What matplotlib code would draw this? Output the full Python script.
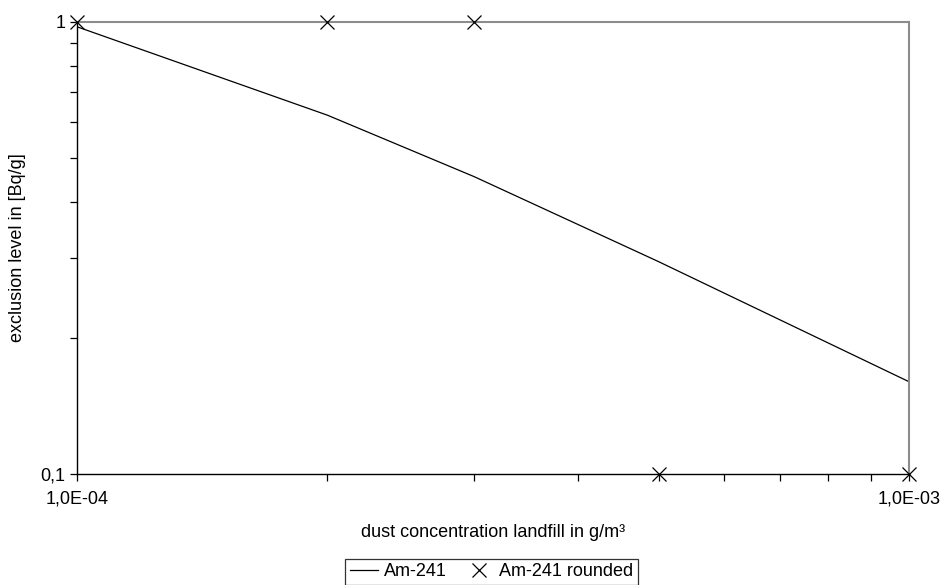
import numpy as np
import matplotlib.pyplot as plt
from matplotlib.ticker import FixedLocator, FixedFormatter, NullFormatter, LogLocator

plt.rcParams['font.family'] = ['Liberation Sans', 'DejaVu Sans']

# data
dust = [1e-4, 2e-4, 3e-4, 5e-4, 1e-3]
am241 = [0.976, 0.622, 0.455, 0.295, 0.16]
am241_rounded = [1, 1, 1, 0.1, 0.1]

fig = plt.figure(figsize=(9.45, 5.85), dpi=100)
ax = fig.add_axes([0.0815, 0.1897, 0.8805, 0.7727])

ax.plot(dust, am241, color='black', lw=0.9, label='Am-241')
ax.plot(dust, am241_rounded, ls='none', marker='x', ms=9.5, mew=0.9,
        color='black', clip_on=False, label='Am-241 rounded', zorder=5)

ax.set_xscale('log')
ax.set_yscale('log')
ax.set_xlim(1e-4, 1e-3)
ax.set_ylim(0.1, 1)

ax.xaxis.set_major_locator(FixedLocator([1e-4, 1e-3]))
ax.xaxis.set_major_formatter(FixedFormatter(['1,0E-04', '1,0E-03']))
ax.xaxis.set_minor_locator(LogLocator(base=10, subs=np.arange(2, 10)))
ax.xaxis.set_minor_formatter(NullFormatter())
ax.yaxis.set_major_locator(FixedLocator([0.1, 1]))
ax.yaxis.set_major_formatter(FixedFormatter(['0,1', '1']))
ax.yaxis.set_minor_locator(LogLocator(base=10, subs=np.arange(2, 10)))
ax.yaxis.set_minor_formatter(NullFormatter())

ax.tick_params(which='both', direction='out', length=5, width=0.9, colors='black',
               labelsize=13, top=False, right=False)
ax.tick_params(axis='x', pad=7)

for s in ['left', 'bottom']:
    ax.spines[s].set_color('black')
    ax.spines[s].set_linewidth(1.0)
for s in ['top', 'right']:
    ax.spines[s].set_color('#8c8c8c')
    ax.spines[s].set_linewidth(1.5)

ax.set_xlabel('dust concentration landfill in g/m³', fontsize=13, labelpad=12)
ax.set_ylabel('exclusion level in [Bq/g]', fontsize=13, labelpad=10)

leg = fig.legend(loc='upper center', bbox_to_anchor=(0.52, 0.045), ncol=2,
                 fontsize=13, frameon=True, fancybox=False, edgecolor='black',
                 handlelength=1.6, handletextpad=0.3, columnspacing=1.0,
                 borderpad=0.25, borderaxespad=0)
leg.get_frame().set_linewidth(0.9)

fig.savefig('out.png', dpi=100)
